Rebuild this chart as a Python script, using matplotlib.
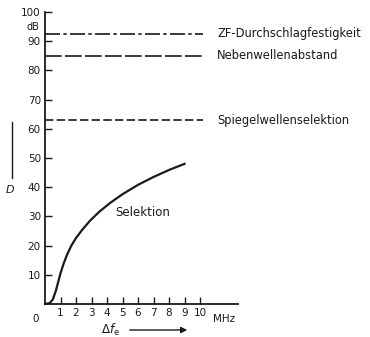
import matplotlib
matplotlib.use("Agg")
import matplotlib.pyplot as plt

# data
sel_x = [0.0, 0.3, 0.5, 0.7, 0.85, 1.0, 1.2, 1.4, 1.7, 2.0, 2.4, 2.9, 3.5, 4.2, 5.0, 6.0, 7.0, 8.0, 9.0]
sel_y = [0.0, 0.3, 1.5, 4.5, 7.5, 10.5, 13.8, 16.6, 20.0, 22.6, 25.4, 28.5, 31.6, 34.6, 37.6, 40.8, 43.5, 45.9, 48.0]
levels = [92.5, 85, 63]
level_names = ["ZF-Durchschlagfestigkeit", "Nebenwellenabstand", "Spiegelwellenselektion"]
x_ticks = [1, 2, 3, 4, 5, 6, 7, 8, 9, 10]
y_ticks = [10, 20, 30, 40, 50, 60, 70, 80, 90]

ink = "#1a1a1a"
plt.rcParams['font.family'] = ['DejaVu Sans']
fig = plt.figure(figsize=(3.70, 3.37), dpi=100)
ax = fig.add_axes([45/370, 33/337, 193/370, 292/337])
ax.set_xlim(0, 12.45)
ax.set_ylim(0, 100)
for s in ['top', 'right']:
    ax.spines[s].set_visible(False)
for s in ['left', 'bottom']:
    ax.spines[s].set_color(ink)
    ax.spines[s].set_linewidth(1.3)

ax.set_xticks(x_ticks)
ax.set_xticklabels([str(t) for t in x_ticks])
ax.set_yticks(y_ticks + [100])
ax.set_yticklabels([str(t) for t in y_ticks] + ["100"])
ax.tick_params(axis='both', direction='in', length=5, width=1.0, color=ink,
               labelsize=7.5, labelcolor=ink, pad=3)

ax.plot(sel_x, sel_y, color=ink, lw=1.6, clip_on=False)

styles = [(0, (9, 2, 2, 2)), (0, (10, 2)), (0, (5, 2))]
for lv, st, name in zip(levels, styles, level_names):
    ax.plot([0, 10.2], [lv, lv], color=ink, lw=1.2, linestyle=st, clip_on=False)
    ax.text(11.1, lv, name, fontsize=8.3, color=ink, va='center', ha='left', clip_on=False)

ax.text(-0.6, -3.5, "0", fontsize=7.5, color=ink, ha='center', va='top', clip_on=False)
ax.text(11.55, -3.5, "MHz", fontsize=7.5, color=ink, ha='center', va='top', clip_on=False)
ax.text(-0.35, 95.0, "dB", fontsize=7, color=ink, ha='right', va='center', clip_on=False)
ax.text(6.3, 31.5, "Selektion", fontsize=8.5, color=ink, ha='center', va='center')

# y label: vertical line and D
fig.add_artist(plt.Line2D([12/370, 12/370], [1 - 122/337, 1 - 178/337], color=ink, lw=1.0))
fig.text(10/370, 1 - 190/337, "D", fontsize=8, style='italic', color=ink, ha='center', va='center')
# x label with arrow
fig.text(110/370, 1 - 330/337, r"$\Delta f_{\mathrm{e}}$", fontsize=8.5, color=ink, ha='center', va='center')
ax.annotate("", xy=(190/370, 1 - 330/337), xytext=(127/370, 1 - 330/337),
            xycoords='figure fraction', textcoords='figure fraction',
            arrowprops=dict(arrowstyle='-|>', color=ink, lw=1.0, mutation_scale=9))

fig.savefig("out.png", dpi=100)
